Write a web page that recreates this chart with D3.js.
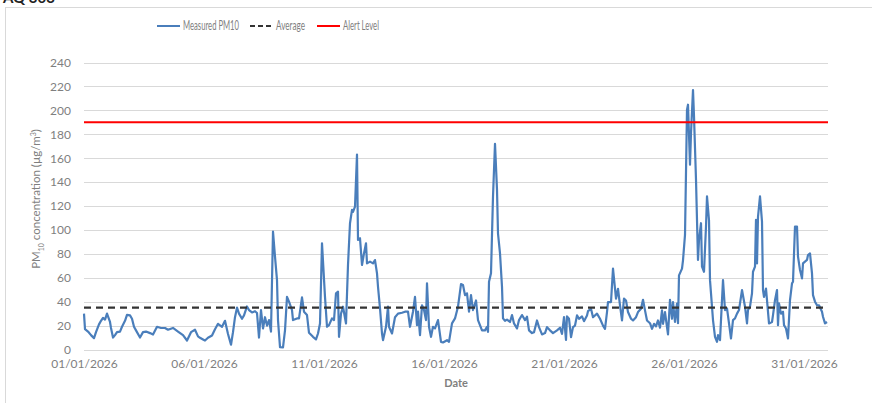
<!DOCTYPE html>
<html>
<head>
<meta charset="utf-8">
<script src="https://cdn.jsdelivr.net/npm/d3@7"></script>
<style>
  body { margin: 0; background: #fff; }
  text { font-family: Lato, "Open Sans", sans-serif; fill: #7f7f7f; }
</style>
</head>
<body>
<svg id="chart" width="872" height="403"></svg>
<script>
// hours since 01/01/2026 00:00
var hours = [0,1,4,7,10,12,15,17,19,21,23,26,27,29,31,33,36,38,41,43,46,48,50,52,56,59,62,66,69,73,77,81,84,89,94,99,103,107,111,114,116,119,121,124,128,131,134,138,141,144,147,149,151,153,155,158,160,163,165,168,171,173,175,177,179,181,183,185,187,189,191,193,194,196,199,201,203,205,208,209,213,215,218,220,223,225,229,232,234,236,238,241,243,245,248,250,252,254,255,257,259,262,264,266,268,269,271,273,274,276,278,280,282,283,286,289,291,293,294,296,298,299,302,304,305,308,311,314,318,321,324,326,329,331,333,334,336,338,340,342,343,345,347,349,351,354,357,359,363,365,368,371,374,377,379,381,383,385,387,389,392,394,398,401,403,404,405,407,409,411,413,414,416,418,419,421,423,426,428,430,433,435,438,441,443,445,448,450,453,455,458,461,463,466,469,473,476,478,480,482,483,485,487,489,491,493,495,498,500,503,504,507,509,513,516,519,521,523,524,527,529,532,534,536,538,540,542,544,547,549,552,554,557,559,561,563,566,568,570,572,574,576,578,579,581,583,584,586,588,589,591,593,594,595,598,599,601,603,604,606,607,609,610,612,614,615,617,618,620,622,623,625,626,628,629,631,633,634,636,638,639,641,643,645,647,649,651,653,655,658,661,663,664,666,668,669,671,672,673,674,676,678,679,680,682,683,685,688,689,691,693,694,695,697,699,700,702,704,706,708,709,711,713,714,716,718,719,721,723,724,726,728,729,731,733,735,738,739,741,743]
var pm10 = [30,17,15,12,9.5,14.5,21,24,26.5,25,30,23,18,10,12,14.5,15,19,24,29,28.5,25.7,19,16,10,14.5,15,13.7,12.5,19,18,18,16.5,18,15,12,7.5,14.5,16.5,11,9.8,8.4,7.5,9.8,11.7,17,21.5,19,24,13,4,14.5,27,35,30,25.7,28.5,36,33,31,32,30.5,10,33,17.6,27,20,24.6,15,98.6,77.6,58,24.6,2,1.7,16,44,40,33,24.6,26,26,43.6,31.6,28.8,14,10.6,8.4,13.4,21.8,88.8,44,19,20.4,26,24.6,47,48.3,10.6,30,35.8,21.8,70.7,105.6,116.8,115,119.5,163,91.6,93,70.7,80.4,88.8,72,73.5,72,74.8,63.7,52.5,34.4,13.4,7.8,19,35.8,19,13.4,27,30,30.7,31.6,31.6,19,31.6,44,20.4,31.6,12,37,33,24.6,55.3,19,10.6,19,17.6,24.6,6.4,5.9,7.8,6.4,21.8,26,35.8,54.7,54,45.5,47,31.6,45.5,33,41,24.6,16,16,19,14.8,56.7,63.7,128,172,133.5,97,80.4,52.5,26,24,25,23,28.8,21.8,17.6,24.6,28.8,24.6,27.4,16,13.7,14.5,24.3,18.7,12.6,13.7,18.7,16,13.7,16,18.2,13,27,8,27.7,25.7,10.3,18.7,20,28.5,25.7,27.7,23.7,28.5,32,34,27,30,25.7,20,17.3,31.3,39.7,39.7,67.6,42.5,50.8,36.9,24.3,42.5,41,31.3,25.7,24.3,27,31.3,34,41.6,32.7,24.3,22,17.3,21.5,19.3,24.3,18.2,32.7,21.5,31.3,18.7,12.6,41.6,25.7,39.7,23,38.3,22,62,67.6,74.6,95.8,200.6,204.7,154.5,181,217,195,142,74.9,91.6,105.6,69.3,65,102.8,128,108,58,35.8,24.6,10.6,6.4,12,7.8,41.3,58,33,34.4,21.8,9.2,24.6,26,30,33,49.7,35.8,21.8,33,35.8,47,65,69.3,108.4,72,111,128,107,49.7,44,51,41.3,21.8,23,28.8,41.3,49.7,20.4,38.5,30,31.6,20.4,17.6,9.2,41.3,55.3,56.7,102.8,102.8,77.6,66.5,59.5,72,73.5,74.9,79,80.4,63.7,45.5,40,37,37,31.6,27.4,21.8,23]
var average = 35
var alertLevel = 190
var yTicks = [0,20,40,60,80,100,120,140,160,180,200,220,240]
var xTickDays = [1,6,11,16,21,26,31]

var svg = d3.select("#chart")
var start = new Date(2026,0,1)
var data = hours.map(function(h,i){ return {t: d3.timeHour.offset(start,h), v: pm10[i]} })

var x = d3.scaleTime().domain([start, new Date(2026,1,1)]).range([84,828])
var y = d3.scaleLinear().domain([0,240]).range([349.5,62.5])

// chart frame + title cut off at the top, as in the source
svg.append("rect").attr("x",5.5).attr("y",7.5).attr("width",900).attr("height",420)
   .attr("fill","none").attr("stroke","#d9d9d9")
svg.append("text").attr("x",3).attr("y",3).style("fill","#222").style("font-size","15px")
   .style("font-weight","bold").text("AQ 303")

// gridlines
svg.append("g").selectAll("line").data(yTicks).enter().append("line")
   .attr("x1",84).attr("x2",828)
   .attr("y1",function(d){return Math.round(y(d))+0.5}).attr("y2",function(d){return Math.round(y(d))+0.5})
   .attr("stroke","#d9d9d9").attr("stroke-width",1)

var yAxis = svg.append("g").attr("transform","translate(76,0)")
   .call(d3.axisLeft(y).tickValues(yTicks).tickSize(0).tickPadding(5))
yAxis.select(".domain").remove()
yAxis.selectAll("text").style("font-size","12px").style("fill","#7f7f7f").style("font-family","Lato, sans-serif")

var xAxis = svg.append("g").attr("transform","translate(0,354)")
   .call(d3.axisBottom(x).tickValues(xTickDays.map(function(d){return new Date(2026,0,d)}))
   .tickFormat(d3.timeFormat("%d/%m/%Y")).tickSize(0).tickPadding(5))
xAxis.select(".domain").remove()
xAxis.selectAll("text").style("font-size","12px").style("fill","#7f7f7f").style("font-family","Lato, sans-serif")

// series
var line = d3.line().x(function(d){return x(d.t)}).y(function(d){return y(d.v)})
svg.append("path").datum(data).attr("d",line).attr("fill","none")
   .attr("stroke","#4a7ebb").attr("stroke-width",2.2).attr("stroke-linejoin","round")

svg.append("line").attr("x1",84).attr("x2",828).attr("y1",y(average)).attr("y2",y(average))
   .attr("stroke","#333").attr("stroke-width",2.2).attr("stroke-dasharray","7,5")
svg.append("line").attr("x1",84).attr("x2",828).attr("y1",y(alertLevel)).attr("y2",y(alertLevel))
   .attr("stroke","#ff0000").attr("stroke-width",2)

// axis titles
svg.append("text").attr("x",456).attr("y",387).attr("text-anchor","middle")
   .style("font-size","11px").style("font-weight","bold").text("Date")
var yt = svg.append("text").attr("transform","translate(40,199) rotate(-90)").attr("text-anchor","middle")
   .style("font-size","11.5px")
yt.append("tspan").text("PM")
yt.append("tspan").attr("baseline-shift","sub").style("font-size","7px").text("10")
yt.append("tspan").text(" concentration (µg/m")
yt.append("tspan").attr("baseline-shift","super").style("font-size","7px").text("3")
yt.append("tspan").text(")")

// legend
var legend = [
  {label:"Measured PM10", x:157, color:"#4a7ebb", dash:null, w:56},
  {label:"Average", x:250, color:"#333", dash:"5,3", w:29},
  {label:"Alert Level", x:317, color:"#ff0000", dash:null, w:36}
]
var lg = svg.append("g").selectAll("g").data(legend).enter().append("g")
lg.append("line").attr("x1",function(d){return d.x}).attr("x2",function(d){return d.x+23})
  .attr("y1",26).attr("y2",26).attr("stroke",function(d){return d.color}).attr("stroke-width",2)
  .attr("stroke-dasharray",function(d){return d.dash})
lg.append("text").attr("x",function(d){return d.x+26}).attr("y",30)
  .attr("textLength",function(d){return d.w}).attr("lengthAdjust","spacingAndGlyphs")
  .style("font-size","12.5px").text(function(d){return d.label})
</script>
</body>
</html>
